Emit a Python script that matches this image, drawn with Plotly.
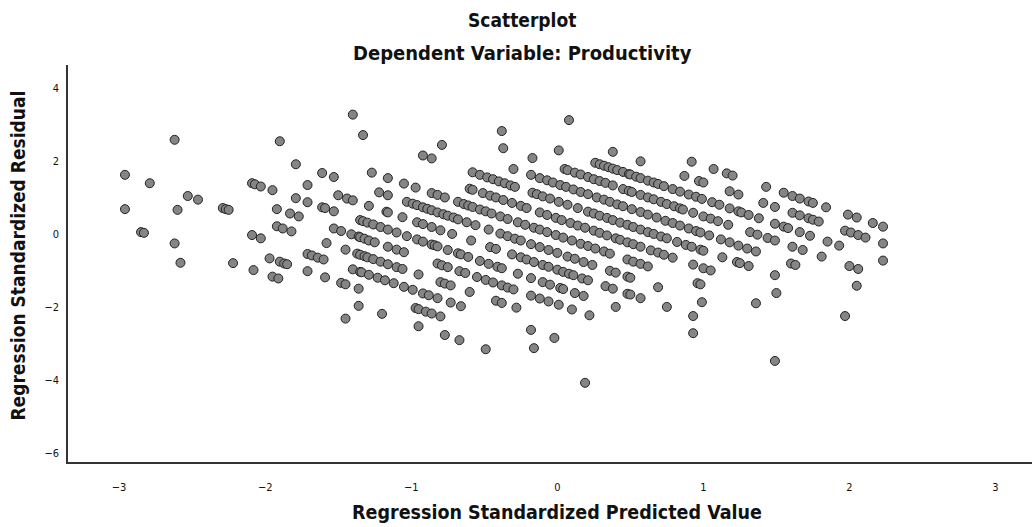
import plotly.graph_objects as go

# Points grouped by the diagonal bands visible in the picture
# (x = Regression Standardized Predicted Value, y = Regression Standardized Residual)
x0 = [0.08, 0.92, 1.07, 1.16, 1.20, 1.43, 1.55, 1.61, 1.66, 1.72, 1.75, 1.84, 1.99, 2.05, 2.16, 2.23]
y0 = [3.12, 1.98, 1.78, 1.66, 1.60, 1.29, 1.13, 1.04, 0.97, 0.89, 0.85, 0.73, 0.53, 0.45, 0.30, 0.20]

x1 = [0.38, 0.57, 0.87, 0.97, 1.00, 1.18, 1.24, 1.41, 1.49, 1.61, 1.66, 1.72, 1.75, 1.79, 1.97, 2.01, 2.06, 2.11, 2.23]
y1 = [2.25, 1.99, 1.59, 1.45, 1.41, 1.17, 1.08, 0.85, 0.74, 0.58, 0.51, 0.43, 0.39, 0.34, 0.09, 0.04, -0.03, -0.10, -0.26]

x2 = [-0.38, 0.01, 0.26, 0.29, 0.32, 0.35, 0.38, 0.41, 0.45, 0.49, 0.50, 0.54, 0.57, 0.62, 0.66, 0.69, 0.73, 0.79, 0.84,
      0.90, 0.95, 0.99, 1.06, 1.11, 1.18, 1.24, 1.26, 1.31, 1.38, 1.49, 1.55, 1.58, 1.66, 1.73, 1.85, 1.93, 2.23]
y2 = [2.82, 2.29, 1.95, 1.91, 1.87, 1.83, 1.79, 1.75, 1.70, 1.64, 1.63, 1.57, 1.53, 1.46, 1.41, 1.37, 1.31, 1.23, 1.16,
      1.08, 1.02, 0.96, 0.87, 0.80, 0.70, 0.62, 0.59, 0.52, 0.43, 0.28, 0.20, 0.16, 0.05, -0.05, -0.21, -0.32, -0.73]

x3 = [-0.37, -0.17, 0.05, 0.07, 0.12, 0.16, 0.21, 0.25, 0.29, 0.33, 0.38, 0.45, 0.49, 0.51, 0.57, 0.62, 0.66, 0.71,
      0.75, 0.80, 0.84, 0.86, 0.93, 1.00, 1.05, 1.10, 1.17, 1.32, 1.37, 1.44, 1.49, 1.61, 1.68, 1.81, 2.00, 2.06]
y3 = [2.35, 2.08, 1.78, 1.75, 1.68, 1.63, 1.56, 1.50, 1.45, 1.40, 1.33, 1.23, 1.18, 1.15, 1.07, 1.00, 0.95, 0.88,
      0.82, 0.76, 0.70, 0.67, 0.58, 0.48, 0.42, 0.35, 0.25, 0.05, -0.02, -0.11, -0.18, -0.35, -0.44, -0.62, -0.88, -0.96]

x4 = [-1.40, -0.79, -0.30, -0.18, -0.12, -0.07, -0.03, 0.02, 0.06, 0.11, 0.16, 0.21, 0.27, 0.32, 0.36, 0.41, 0.45, 0.51,
      0.57, 0.62, 0.68, 0.74, 0.79, 0.84, 0.90, 0.95, 0.98, 1.04, 1.12, 1.18, 1.24, 1.30, 1.36, 1.60, 1.63, 2.05]
y4 = [3.27, 2.44, 1.78, 1.62, 1.53, 1.47, 1.41, 1.34, 1.29, 1.22, 1.15, 1.09, 1.00, 0.94, 0.88, 0.81, 0.76, 0.68,
      0.60, 0.53, 0.45, 0.36, 0.30, 0.23, 0.15, 0.08, 0.04, -0.04, -0.15, -0.23, -0.32, -0.40, -0.48, -0.81, -0.85, -1.42]

x5 = [-1.33, -0.92, -0.86, -0.58, -0.53, -0.48, -0.44, -0.40, -0.36, -0.32, -0.29, -0.17, -0.14, -0.10, -0.05, 0.01,
      0.07, 0.14, 0.21, 0.25, 0.29, 0.34, 0.38, 0.43, 0.48, 0.52, 0.57, 0.62, 0.66, 0.71, 0.75, 0.82, 0.88, 0.92, 0.98,
      1.00, 1.13, 1.23, 1.25, 1.31, 1.49]
y5 = [2.71, 2.15, 2.07, 1.69, 1.62, 1.55, 1.50, 1.44, 1.39, 1.33, 1.29, 1.13, 1.09, 1.03, 0.97, 0.88,
      0.80, 0.71, 0.61, 0.56, 0.50, 0.44, 0.38, 0.31, 0.25, 0.19, 0.12, 0.05, 0.00, -0.07, -0.12, -0.22, -0.30, -0.35, -0.43,
      -0.46, -0.64, -0.77, -0.80, -0.88, -1.13]

x6 = [-0.60, -0.58, -0.51, -0.46, -0.42, -0.37, -0.31, -0.25, -0.21, -0.12, -0.07, -0.01, 0.03, 0.09, 0.14, 0.19, 0.25,
      0.29, 0.34, 0.40, 0.43, 0.48, 0.52, 0.57, 0.64, 0.69, 0.73, 0.79, 0.93, 1.00, 1.05, 1.50, 1.97]
y6 = [1.24, 1.21, 1.12, 1.05, 1.00, 0.93, 0.85, 0.77, 0.71, 0.59, 0.52, 0.44, 0.38, 0.30, 0.23, 0.17, 0.09,
      0.03, -0.04, -0.12, -0.16, -0.23, -0.28, -0.35, -0.45, -0.51, -0.57, -0.65, -0.84, -0.94, -1.00, -1.62, -2.25]

x7 = [-1.90, -1.27, -1.16, -1.05, -0.97, -0.86, -0.82, -0.77, -0.68, -0.64, -0.61, -0.58, -0.53, -0.49, -0.45, -0.39,
      -0.34, -0.27, -0.22, -0.16, -0.12, -0.07, -0.01, 0.04, 0.10, 0.16, 0.21, 0.26, 0.32, 0.36, 0.48, 0.52, 0.57, 0.62,
      0.96, 0.98, 1.36]
y7 = [2.54, 1.68, 1.53, 1.38, 1.27, 1.12, 1.07, 1.00, 0.88, 0.82, 0.78, 0.74, 0.67, 0.62, 0.56, 0.48,
      0.41, 0.32, 0.25, 0.17, 0.12, 0.05, -0.03, -0.10, -0.18, -0.27, -0.33, -0.40, -0.48, -0.54, -0.70, -0.76, -0.82, -0.89,
      -1.35, -1.38, -1.90]

x8 = [-1.79, -1.61, -1.53, -1.22, -1.16, -1.03, -0.99, -0.96, -0.92, -0.89, -0.86, -0.82, -0.78, -0.75, -0.71, -0.68,
      -0.62, -0.56, -0.47, -0.39, -0.34, -0.29, -0.25, -0.18, -0.12, -0.06, 0.00, 0.07, 0.12, 0.18, 0.24, 0.36, 0.40, 0.48,
      0.50, 0.69, 0.99]
y8 = [1.91, 1.67, 1.56, 1.14, 1.06, 0.88, 0.83, 0.79, 0.73, 0.69, 0.65, 0.59, 0.54, 0.50, 0.45, 0.40,
      0.32, 0.24, 0.12, 0.01, -0.06, -0.13, -0.18, -0.28, -0.36, -0.44, -0.52, -0.62, -0.68, -0.77, -0.85, -1.01, -1.06, -1.17,
      -1.20, -1.46, -1.87]

x9 = [-2.62, -1.71, -1.50, -1.44, -1.40, -1.29, -1.17, -1.16, -1.06, -0.96, -0.92, -0.86, -0.80, -0.72, -0.59, -0.46,
      -0.42, -0.31, -0.25, -0.21, -0.16, -0.10, -0.06, 0.00, 0.04, 0.08, 0.11, 0.17, 0.21, 0.33, 0.38, 0.48, 0.50, 0.57,
      0.75, 0.93]
y9 = [2.58, 1.34, 1.06, 0.97, 0.92, 0.77, 0.61, 0.59, 0.46, 0.32, 0.27, 0.19, 0.10, 0.00, -0.18, -0.36,
      -0.41, -0.56, -0.64, -0.70, -0.77, -0.85, -0.90, -0.98, -1.04, -1.09, -1.13, -1.22, -1.27, -1.43, -1.50, -1.64, -1.66, -1.76,
      -2.00, -2.25]

x10 = [-2.09, -2.07, -2.03, -1.95, -1.79, -1.71, -1.61, -1.59, -1.53, -1.35, -1.33, -1.30, -1.26, -1.21, -1.16, -1.10,
       -1.03, -0.96, -0.92, -0.86, -0.84, -0.82, -0.75, -0.68, -0.66, -0.61, -0.53, -0.47, -0.41, -0.38, -0.27, -0.18,
       -0.10, -0.05, 0.02, 0.04, 0.12, 0.18, 0.40, 0.93, 1.49]
y10 = [1.39, 1.36, 1.30, 1.20, 0.98, 0.87, 0.73, 0.71, 0.62, 0.38, 0.35, 0.31, 0.26, 0.19, 0.12, 0.04,
       -0.06, -0.15, -0.21, -0.29, -0.31, -0.34, -0.44, -0.53, -0.56, -0.63, -0.74, -0.82, -0.90, -0.94, -1.09, -1.21,
       -1.32, -1.39, -1.48, -1.51, -1.62, -1.70, -2.00, -2.72, -3.48]

x11 = [-1.92, -1.83, -1.77, -1.53, -1.48, -1.41, -1.36, -1.35, -1.32, -1.29, -1.25, -1.16, -1.10, -1.05, -0.82, -0.79,
       -0.75, -0.67, -0.63, -0.55, -0.49, -0.44, -0.38, -0.34, -0.30, -0.18, -0.12, -0.06, 0.01, 0.10, 0.22]
y11 = [0.68, 0.56, 0.48, 0.15, 0.08, -0.01, -0.07, -0.09, -0.13, -0.18, -0.23, -0.35, -0.43, -0.50, -0.81, -0.86,
       -0.91, -1.02, -1.07, -1.18, -1.26, -1.33, -1.41, -1.47, -1.52, -1.69, -1.77, -1.85, -1.94, -2.07, -2.23]

x12 = [-2.96, -2.79, -2.53, -2.46, -2.29, -2.27, -2.25, -1.92, -1.88, -1.82, -1.58, -1.45, -1.37, -1.35, -1.32, -1.30,
       -1.26, -1.21, -1.16, -1.10, -1.06, -0.95, -0.80, -0.77, -0.73, -0.60, -0.42, -0.38, -0.28]
y12 = [1.62, 1.39, 1.04, 0.94, 0.71, 0.68, 0.66, 0.21, 0.15, 0.07, -0.25, -0.43, -0.54, -0.57, -0.61, -0.64,
       -0.69, -0.76, -0.83, -0.91, -0.96, -1.11, -1.32, -1.36, -1.41, -1.59, -1.83, -1.89, -2.02]

x13 = [-2.60, -2.09, -2.03, -1.71, -1.68, -1.64, -1.60, -1.40, -1.35, -1.34, -1.29, -1.23, -1.18, -1.12, -1.05, -0.99,
       -0.92, -0.88, -0.82, -0.73, -0.66, -0.18, -0.02]
y13 = [0.66, -0.03, -0.12, -0.55, -0.59, -0.65, -0.70, -0.97, -1.04, -1.05, -1.12, -1.20, -1.27, -1.35, -1.45, -1.53,
       -1.63, -1.68, -1.76, -1.88, -1.98, -2.63, -2.85]

x14 = [-2.96, -1.97, -1.90, -1.87, -1.85, -1.71, -1.59, -1.48, -1.45, -1.36, -0.97, -0.95, -0.90, -0.86, -0.80, -0.16]
y14 = [0.68, -0.67, -0.76, -0.81, -0.83, -1.02, -1.19, -1.34, -1.38, -1.50, -2.03, -2.06, -2.13, -2.18, -2.26, -3.13]

x15 = [-2.85, -2.83, -2.62, -2.22, -2.08, -1.95, -1.91, -1.36, -1.20, -0.95, -0.77, -0.67, -0.49, 0.19]
y15 = [0.05, 0.03, -0.26, -0.80, -0.99, -1.17, -1.22, -1.97, -2.19, -2.53, -2.77, -2.91, -3.16, -4.08]

x16 = [-2.58, -1.45]
y16 = [-0.79, -2.32]

x_ticks = [-3, -2, -1, 0, 1, 2, 3]
y_ticks = [-6, -4, -2, 0, 2, 4]

title_text = "Scatterplot"
subtitle_text = "Dependent Variable: Productivity"
x_title = "Regression Standardized Predicted Value"
y_title = "Regression Standardized Residual"

bands_x = [x0, x1, x2, x3, x4, x5, x6, x7, x8, x9, x10, x11, x12, x13, x14, x15, x16]
bands_y = [y0, y1, y2, y3, y4, y5, y6, y7, y8, y9, y10, y11, y12, y13, y14, y15, y16]

xs, ys = [], []
for bx, by in zip(bands_x, bands_y):
    for a, b in zip(bx, by):
        xs.append(a)
        ys.append(b)

FONT = "Liberation Sans Narrow, DejaVu Sans Condensed, Arial Narrow, sans-serif"

fig = go.Figure()
fig.add_trace(go.Scatter(
    x=xs, y=ys, mode="markers",
    marker=dict(size=9, color="#858585", line=dict(color="#222222", width=1)),
    showlegend=False, hoverinfo="x+y",
))

fig.update_layout(
    width=1032, height=527,
    margin=dict(l=68, r=0, t=65, b=65),
    paper_bgcolor="white", plot_bgcolor="white",
    font=dict(family=FONT, color="#111111"),
    xaxis=dict(range=[-3.35, 3.25], tickvals=x_ticks, showgrid=False, zeroline=False,
               showline=True, linecolor="#333333", linewidth=1.5,
               ticks="outside", ticklen=14, tickcolor="rgba(0,0,0,0)",
               tickfont=dict(size=11, family=FONT, color="#111111")),
    yaxis=dict(range=[-6.25, 4.63], tickvals=y_ticks, showgrid=False, zeroline=False,
               showline=True, linecolor="#333333", linewidth=1.5,
               ticks="outside", ticklen=5, tickcolor="rgba(0,0,0,0)",
               tickfont=dict(size=11, family=FONT, color="#111111")),
    annotations=[
        dict(text="<b>" + title_text + "</b>", xref="paper", yref="paper", x=0.471, y=1,
             yshift=45, xanchor="center", yanchor="middle", showarrow=False,
             font=dict(size=19, family=FONT, color="#111111")),
        dict(text="<b>" + subtitle_text + "</b>", xref="paper", yref="paper", x=0.471, y=1,
             yshift=12, xanchor="center", yanchor="middle", showarrow=False,
             font=dict(size=20, family=FONT, color="#111111")),
        dict(text="<b>" + x_title + "</b>", xref="paper", yref="paper", x=0.507, y=0,
             yshift=-50, xanchor="center", yanchor="middle", showarrow=False,
             font=dict(size=19.5, family=FONT, color="#111111")),
        dict(text="<b>" + y_title + "</b>", xref="paper", yref="paper", x=0, y=0.52,
             xshift=-50, xanchor="center", yanchor="middle", showarrow=False, textangle=-90,
             font=dict(size=19, family=FONT, color="#111111")),
    ],
)

fig.write_html("out.html", config={"displayModeBar": False},
               post_script="document.body.style.margin='0';document.body.style.overflow='hidden';")
